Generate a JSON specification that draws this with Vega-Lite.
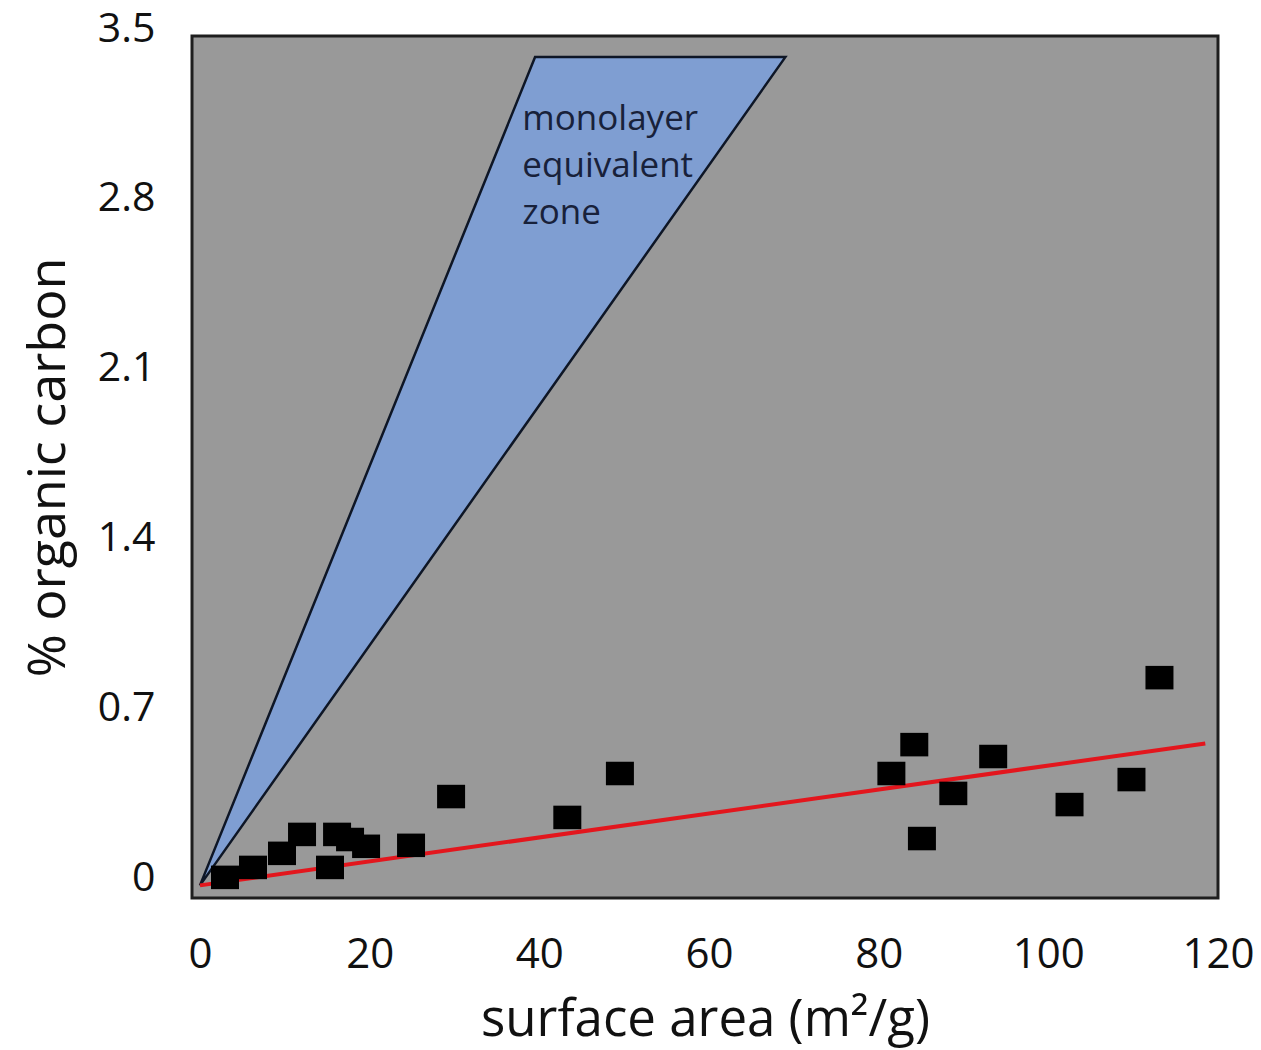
{
  "$schema": "https://vega.github.io/schema/vega-lite/v6.json",
  "autosize": {"type": "none"},
  "padding": {"left": 192, "top": 36, "right": 43, "bottom": 152},
  "width": 1026,
  "height": 862,
  "background": "white",
  "config": {
    "view": {"fill": "#999999", "stroke": "#1e1e1e", "strokeWidth": 3},
    "font": "Open Sans"
  },
  "datasets": {
    "points": [
      {"sa": 2.95, "oc": 0.033},
      {"sa": 6.25, "oc": 0.074},
      {"sa": 9.67, "oc": 0.132},
      {"sa": 12.03, "oc": 0.21},
      {"sa": 15.33, "oc": 0.074},
      {"sa": 16.16, "oc": 0.21},
      {"sa": 17.69, "oc": 0.189},
      {"sa": 19.58, "oc": 0.161},
      {"sa": 24.88, "oc": 0.165},
      {"sa": 29.6, "oc": 0.366},
      {"sa": 43.3, "oc": 0.28},
      {"sa": 49.5, "oc": 0.461},
      {"sa": 81.5, "oc": 0.461},
      {"sa": 84.2, "oc": 0.58},
      {"sa": 85.1, "oc": 0.193},
      {"sa": 88.8, "oc": 0.379},
      {"sa": 93.5, "oc": 0.531},
      {"sa": 102.5, "oc": 0.333},
      {"sa": 109.8, "oc": 0.436},
      {"sa": 113.1, "oc": 0.856}
    ],
    "fit": [
      {"sa": 0, "oc": 0},
      {"sa": 118.5, "oc": 0.585}
    ],
    "zone": [
      {"sa": 0, "upper": 0, "lower": 0},
      {"sa": 39.5, "upper": 3.413, "lower": 1.954},
      {"sa": 69.0, "upper": 3.413, "lower": 3.413}
    ],
    "label": [
      {"sa": 38.0, "oc": 3.114, "text": "monolayer\nequivalent\nzone"}
    ]
  },
  "encoding": {
    "x": {
      "field": "sa", "type": "quantitative",
      "scale": {"domain": [-0.94, 120], "nice": false, "zero": false},
      "axis": {
        "title": "surface area (m²/g)",
        "values": [0, 20, 40, 60, 80, 100, 120],
        "grid": false, "ticks": false, "tickSize": 0, "domain": false,
        "labelFlush": false,
        "labelFont": "Open Sans", "labelFontSize": 42, "labelColor": "#111111",
        "labelPadding": 36,
        "titleFont": "Open Sans", "titleFontSize": 51, "titleFontWeight": "normal",
        "titleColor": "#111111", "titlePadding": 20
      }
    }
  },
  "layer": [
    {
      "data": {"name": "zone"},
      "mark": {"type": "area", "fill": "#7f9ed2", "fillOpacity": 1, "stroke": "#0e1626", "strokeWidth": 2.5, "interpolate": "linear"},
      "encoding": {
        "y": {
          "field": "upper", "type": "quantitative",
          "scale": {"domain": [-0.052, 3.5], "nice": false, "zero": false},
          "axis": {
            "title": "% organic carbon",
            "values": [0, 0.7, 1.4, 2.1, 2.8, 3.5],
            "format": "~g",
            "grid": false, "ticks": false, "tickSize": 0, "domain": false,
            "labelFont": "Open Sans", "labelFontSize": 41, "labelColor": "#111111",
            "labelPadding": 37, "labelOffset": -7,
            "titleFont": "Open Sans", "titleFontSize": 52, "titleFontWeight": "normal",
            "titleColor": "#111111", "titlePadding": 22
          }
        },
        "y2": {"field": "lower"}
      }
    },
    {
      "data": {"name": "fit"},
      "mark": {"type": "line", "color": "#e3161d", "strokeWidth": 4},
      "encoding": {"y": {"field": "oc", "type": "quantitative"}}
    },
    {
      "data": {"name": "points"},
      "mark": {"type": "point", "shape": "M-1,-0.84L1,-0.84L1,0.84L-1,0.84Z", "filled": true, "color": "#000000", "opacity": 1, "size": 784},
      "encoding": {"y": {"field": "oc", "type": "quantitative"}}
    },
    {
      "data": {"name": "label"},
      "mark": {"type": "text", "align": "left", "baseline": "alphabetic", "font": "Open Sans", "fontSize": 35, "lineHeight": 47, "lineBreak": "\n", "color": "#18213a"},
      "encoding": {
        "y": {"field": "oc", "type": "quantitative"},
        "text": {"field": "text"}
      }
    }
  ]
}
